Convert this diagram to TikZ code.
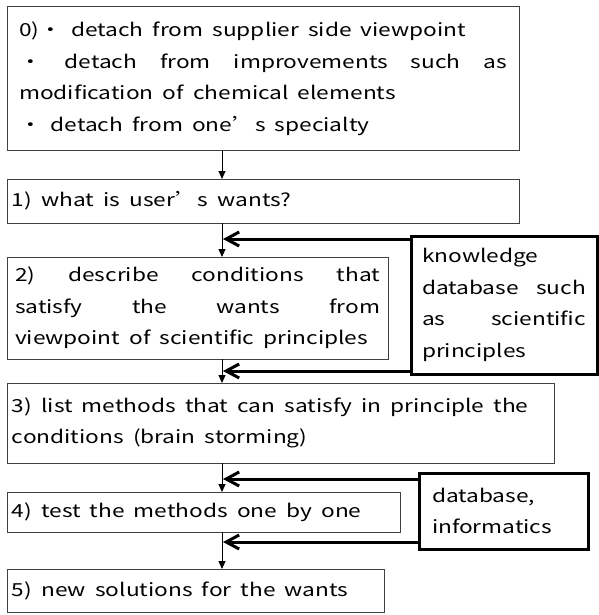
\documentclass[tikz,border=0pt]{standalone}
\usepackage{fontspec}
\setmainfont{Noto Sans CJK JP}[FakeStretch=1.26,WordSpace=1.8]
\usepackage{tikz}
\usetikzlibrary{arrows.meta}
\definecolor{frame}{RGB}{64,64,64}
% full-width apostrophe, as in the Japanese original
\newcommand{\fwapos}{{\addfontfeatures{RawFeature=+fwid}’}}

\tikzset{
  stepbox/.style={draw=frame,line width=1pt,anchor=north west,outer sep=0pt,
    inner ysep=0pt,align=justify,font=\fontsize{18}{31.5}\selectfont},
  srcbox/.style={stepbox,draw=black,line width=3pt},
  flow/.style={-{Triangle[length=8pt,width=7pt]},line width=1pt},
  feed/.style={-{Straight Barb[length=13pt,width=14pt]},line width=3pt,shorten >=1pt}
}

\begin{document}
\begin{tikzpicture}[x=1pt,y=-1pt]
    \useasboundingbox (0,0) rectangle (598,615);
    % main column of steps
    \node[stepbox,text width=488pt,inner xsep=12pt,minimum height=143pt] (s0) at (7,7)
      {0)・ detach from supplier side viewpoint\\
       ・ detach from improvements such as\linebreak
       modification of chemical elements\\
       ・ detach from one\fwapos s specialty};
    \node[stepbox,text width=502pt,inner xsep=5pt,minimum height=44pt] (s1) at (7,179)
      {1) what is user\fwapos s wants?};
    \node[stepbox,text width=365pt,inner xsep=8pt,minimum height=102pt] (s2) at (7,257)
      {2) describe conditions that\linebreak
       satisfy the wants from\linebreak
       viewpoint of scientific principles};
    \node[stepbox,text width=537pt,inner xsep=5pt,minimum height=80pt] (s3) at (7,383)
      {3) list methods that can satisfy in principle the\\
       conditions (brain storming)};
    \node[stepbox,text width=383pt,inner xsep=5pt,minimum height=40pt] (s4) at (7,492)
      {4) test the methods one by one};
    \node[stepbox,text width=367pt,inner xsep=5pt,minimum height=43pt] (s5) at (7,569)
      {5) new solutions for the wants};
    % side sources
    \node[srcbox,text width=164pt,inner xsep=11pt,minimum height=138pt] (know) at (411,236)
      {knowledge\\
       database such\linebreak
       as scientific\linebreak
       principles};
    \node[srcbox,text width=143pt,inner xsep=13pt,minimum height=76pt] (data) at (419,473)
      {database,\\
       informatics};
    % vertical flow
    \coordinate (spine) at (222,0);
    \foreach \a/\b in {s0/s1,s1/s2,s2/s3,s3/s4,s4/s5}
      \draw[flow] (\a.south -| spine) -- (\b.north -| spine);
    % inputs from the side boxes
    \coordinate (k1) at ([yshift=-3pt]know.north west);
    \coordinate (k2) at ([yshift=3pt]know.south west);
    \coordinate (d1) at ([yshift=-6pt]data.north west);
    \coordinate (d2) at ([yshift=7pt]data.south west);
    \foreach \c in {k1,k2,d1,d2}
      \draw[feed] (\c) -- (\c -| spine);
\end{tikzpicture}
\end{document}
